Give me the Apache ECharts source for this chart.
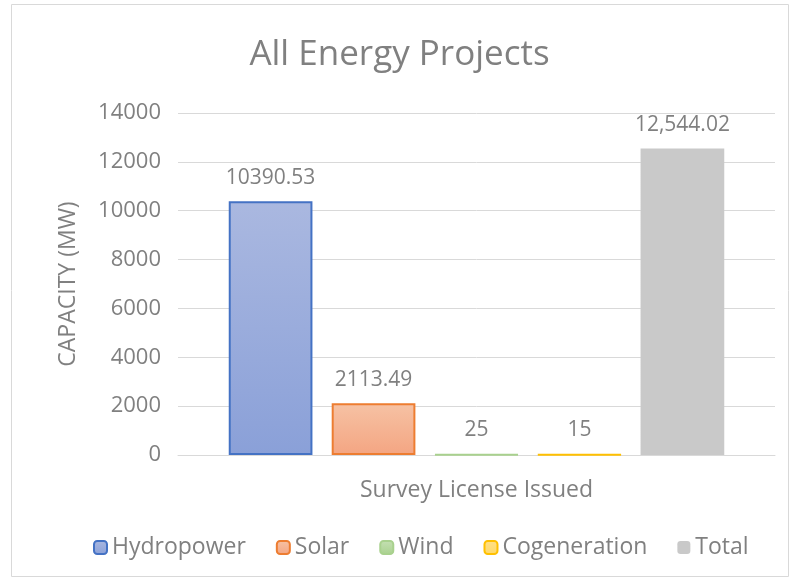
<!DOCTYPE html>
<html>
<head>
<meta charset="utf-8">
<script src="https://cdn.jsdelivr.net/npm/echarts@6/dist/echarts.min.js"></script>
<style>
  html, body { margin: 0; padding: 0; background: #fff; }
  #chart { width: 799px; height: 588px; }
</style>
</head>
<body>
<div id="chart"></div>
<script>
const categories = ["Survey License Issued"];
const seriesNames = ["Hydropower", "Solar", "Wind", "Cogeneration", "Total"];
const seriesValues = [10390.53, 2113.49, 25, 15, 12544.02];
const labelTexts = ["10390.53", "2113.49", "25", "15", "12,544.02"];
const yTicks = [0, 2000, 4000, 6000, 8000, 10000, 12000, 14000];

const fills = [
  ["#aab8e0", "#8aa0d8"],
  ["#f6c2a4", "#f4a582"],
  ["#c5e0b4", "#a9d18e"],
  ["#ffe08a", "#ffd966"],
  ["#c9c9c9", "#c9c9c9"]
];
const borders = ["#4472c4", "#ed7d31", "#a9d18e", "#ffc000", null];

const textColor = "#808080";
const fontFamily = "'Open Sans', sans-serif";

const chart = echarts.init(document.getElementById("chart"));

const series = seriesNames.map((name, i) => ({
  name: name,
  type: "bar",
  data: [seriesValues[i]],
  barGap: "23%",
  barCategoryGap: "17%",
  itemStyle: {
    color: new echarts.graphic.LinearGradient(0, 0, 0, 1, [
      { offset: 0, color: fills[i][0] },
      { offset: 1, color: fills[i][1] }
    ]),
    borderColor: borders[i] || "transparent",
    borderWidth: borders[i] ? 2 : 0
  },
  label: {
    show: true,
    position: "top",
    distance: 13,
    formatter: () => labelTexts[i],
    color: textColor,
    fontSize: 21,
    fontFamily: fontFamily
  }
}));

const option = {
  animation: false,
  title: {
    text: "All Energy Projects",
    left: "center",
    top: 33,
    textStyle: {
      color: textColor,
      fontSize: 35,
      fontWeight: "normal",
      fontFamily: fontFamily
    }
  },
  graphic: [{
    type: "rect",
    shape: { x: 11.5, y: 4.5, width: 777, height: 572 },
    style: { fill: "none", stroke: "#d9d9d9", lineWidth: 1 },
    silent: true
  }],
  legend: {
    bottom: 24,
    left: 88,
    itemWidth: 13,
    itemHeight: 13,
    itemGap: 30,
    data: seriesNames.map((name, i) => ({
      name: name,
      itemStyle: i === 4 ? { borderWidth: 0 } : {}
    })),
    textStyle: {
      color: textColor,
      fontSize: 23,
      fontFamily: fontFamily
    }
  },
  grid: {
    left: 178,
    right: 24,
    top: 113,
    bottom: 133
  },
  xAxis: {
    type: "category",
    data: categories,
    axisLine: { lineStyle: { color: "#d9d9d9", width: 1 } },
    axisTick: { show: false },
    axisLabel: {
      color: textColor,
      fontSize: 23,
      margin: 24,
      fontFamily: fontFamily
    }
  },
  yAxis: {
    type: "value",
    min: yTicks[0],
    max: yTicks[yTicks.length - 1],
    interval: 2000,
    name: "CAPACITY (MW)",
    nameLocation: "middle",
    nameGap: 98,
    nameTextStyle: {
      color: textColor,
      fontSize: 23,
      fontFamily: fontFamily
    },
    axisLine: { show: false },
    axisTick: { show: false },
    splitLine: { lineStyle: { color: "#d9d9d9", width: 1 } },
    axisLabel: {
      color: textColor,
      fontSize: 22,
      margin: 17,
      fontFamily: fontFamily,
      formatter: (v) => String(v)
    }
  },
  series: series
};

chart.setOption(option);
</script>
</body>
</html>
